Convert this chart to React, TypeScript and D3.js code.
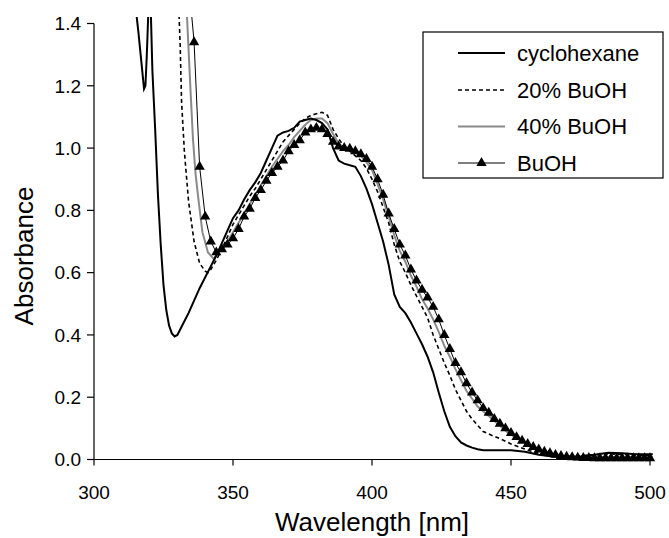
import React from "react";
import * as d3 from "d3";

const xTicks = [300, 350, 400, 450, 500];
const yTicks = [0, 0.2, 0.4, 0.6, 0.8, 1.0, 1.2, 1.4];
const yTickLabels = ["0.0", "0.2", "0.4", "0.6", "0.8", "1.0", "1.2", "1.4"];

const seriesNames = ["cyclohexane", "20% BuOH", "40% BuOH", "BuOH"];

const cycloWl = [315, 316, 317, 318, 318.5, 319, 319.6, 320, 320.4, 321, 322, 323, 324, 325, 326, 327, 328, 329, 330, 332, 334, 336, 338, 340, 342, 344, 346, 348, 350, 352, 354, 356, 358, 360, 362, 364, 366, 368, 370, 372, 374, 376, 378, 380, 382, 384, 386, 388, 390, 392, 394, 396, 398, 400, 402, 404, 406, 408, 410, 412, 414, 416, 418, 420, 422, 424, 426, 428, 430, 432, 434, 436, 438, 440, 445, 450, 455, 460, 465, 470, 475, 480, 485, 490, 495, 501];
const cycloA = [1.45, 1.37, 1.28, 1.19, 1.2, 1.3, 1.45, 1.5, 1.45, 1.25, 1.06, 0.85, 0.69, 0.56, 0.48, 0.43, 0.405, 0.395, 0.40, 0.435, 0.47, 0.51, 0.55, 0.585, 0.62, 0.655, 0.695, 0.735, 0.775, 0.80, 0.835, 0.865, 0.89, 0.92, 0.96, 1.0, 1.04, 1.05, 1.055, 1.065, 1.085, 1.09, 1.095, 1.09, 1.08, 1.06, 1.0, 0.96, 0.95, 0.945, 0.94, 0.91, 0.87, 0.82, 0.76, 0.70, 0.625, 0.53, 0.49, 0.47, 0.44, 0.405, 0.37, 0.33, 0.28, 0.215, 0.155, 0.105, 0.075, 0.055, 0.045, 0.038, 0.033, 0.03, 0.03, 0.03, 0.025, 0.015, 0.01, 0.008, 0.01, 0.015, 0.022, 0.02, 0.017, 0.017];

const bu20Wl = [330.5, 331, 331.5, 332.5, 334, 336, 338, 340, 341, 342, 344, 346, 348, 350, 352, 354, 356, 358, 360, 362, 364, 366, 368, 370, 372, 374, 376, 378, 380, 382, 384, 386, 388, 390, 392, 394, 396, 398, 400, 402, 404, 406, 408, 410, 412, 414, 416, 418, 420, 422, 424, 426, 428, 430, 432, 434, 436, 438, 440, 443, 446, 450, 453, 456, 460, 465, 470, 475, 480, 485, 490, 495, 501];
const bu20A = [1.45, 1.33, 1.15, 0.99, 0.83, 0.70, 0.63, 0.605, 0.60, 0.61, 0.64, 0.675, 0.715, 0.755, 0.785, 0.815, 0.845, 0.87, 0.90, 0.93, 0.96, 0.99, 1.02, 1.04, 1.06, 1.08, 1.095, 1.105, 1.11, 1.115, 1.105, 1.06, 1.03, 1.005, 0.99, 0.975, 0.96, 0.935, 0.90, 0.86, 0.81, 0.76, 0.69, 0.635, 0.60, 0.56, 0.525, 0.49, 0.455, 0.40, 0.355, 0.31, 0.27, 0.225, 0.19, 0.155, 0.13, 0.11, 0.09, 0.078, 0.067, 0.05, 0.04, 0.03, 0.02, 0.013, 0.01, 0.012, 0.015, 0.018, 0.016, 0.014, 0.014];

const bu40Wl = [333.3, 334, 334.8, 335.6, 336.5, 337.5, 339, 341, 343, 345, 348, 350, 352, 354, 356, 358, 360, 362, 364, 366, 368, 370, 372, 374, 376, 378, 380, 382, 384, 386, 388, 390, 392, 394, 396, 398, 400, 402, 404, 406, 408, 410, 412, 414, 416, 418, 420, 422, 424, 426, 428, 430, 432, 434, 436, 438, 440, 442, 445, 449, 453, 457, 460, 465, 470, 475, 480, 490, 501];
const bu40A = [1.45, 1.32, 1.17, 1.03, 0.92, 0.84, 0.73, 0.665, 0.645, 0.665, 0.70, 0.73, 0.76, 0.79, 0.82, 0.85, 0.88, 0.91, 0.94, 0.965, 0.99, 1.01, 1.035, 1.055, 1.075, 1.09, 1.095, 1.095, 1.08, 1.045, 1.015, 1.0, 0.995, 0.985, 0.975, 0.955, 0.93, 0.885, 0.835, 0.78, 0.72, 0.67, 0.635, 0.59, 0.555, 0.515, 0.485, 0.45, 0.41, 0.365, 0.33, 0.29, 0.255, 0.22, 0.195, 0.17, 0.155, 0.14, 0.116, 0.085, 0.063, 0.045, 0.033, 0.018, 0.01, 0.008, 0.008, 0.008, 0.008];

const buWl = [335, 336, 338, 340, 342, 344, 346, 348, 350, 352, 354, 356, 358, 360, 362, 364, 366, 368, 370, 372, 374, 376, 378, 380, 382, 384, 386, 388, 390, 392, 394, 396, 398, 400, 402, 404, 406, 408, 410, 412, 414, 416, 418, 420, 422, 424, 426, 428, 430, 432, 434, 436, 438, 440, 442, 444, 446, 448, 450, 452, 454, 456, 458, 460, 462, 464, 466, 468, 470, 472, 474, 476, 478, 480, 482, 484, 486, 488, 490, 492, 494, 496, 498, 500];
const buA = [1.44, 1.34, 0.94, 0.78, 0.70, 0.665, 0.675, 0.69, 0.71, 0.74, 0.78, 0.805, 0.84, 0.865, 0.895, 0.92, 0.94, 0.96, 0.99, 1.01, 1.025, 1.05, 1.06, 1.065, 1.06, 1.045, 1.02, 1.005, 1.0, 0.998, 0.99, 0.98, 0.965, 0.94, 0.90, 0.85, 0.79, 0.74, 0.69, 0.655, 0.61, 0.575, 0.545, 0.52, 0.49, 0.45, 0.40, 0.355, 0.31, 0.28, 0.245, 0.215, 0.19, 0.165, 0.15, 0.13, 0.115, 0.10, 0.085, 0.072, 0.06, 0.05, 0.04, 0.032, 0.025, 0.02, 0.015, 0.011, 0.009, 0.007, 0.006, 0.005, 0.005, 0.004, 0.004, 0.004, 0.004, 0.004, 0.004, 0.004, 0.004, 0.004, 0.004, 0.004];

const FONT = '"Liberation Sans", Arial, Helvetica, sans-serif';

export default function App() {
  const W = 669, H = 538;
  const x = d3.scaleLinear().domain([300, 500]).range([94, 650]);
  const y = d3.scaleLinear().domain([0, 1.4]).range([459.5, 23.5]);
  const line = d3.line<[number, number]>().x(d => x(d[0])).y(d => y(d[1]));
  const zip = (a: number[], b: number[]) => a.map((v, i) => [v, b[i]] as [number, number]);
  const cyc = zip(cycloWl, cycloA);
  const b20 = zip(bu20Wl, bu20A);
  const b40 = zip(bu40Wl, bu40A);
  const bu = zip(buWl, buA);
  const tri = d3.symbol().type(d3.symbolTriangle).size(46)();
  const legendY = [53, 90, 126.5, 163];

  return (
    <svg width={W} height={H} style={{ position: "absolute", left: 0, top: 0, background: "#fff" }} fontFamily={FONT}>
      <defs>
        <clipPath id="plotclip">
          <rect x={94} y={17} width={566} height={455} />
        </clipPath>
      </defs>
      <rect x={0} y={0} width={W} height={H} fill="#fff" />
      {/* axes */}
      <line x1={x(300)} x2={x(500)} y1={y(0)} y2={y(0)} stroke="#000" strokeWidth={1.2} />
      <line x1={x(300)} x2={x(300)} y1={y(0)} y2={y(1.4)} stroke="#000" strokeWidth={1.2} />
      {xTicks.map(t => (
        <g key={"xt" + t}>
          <line x1={x(t)} x2={x(t)} y1={y(0)} y2={y(0) + 6} stroke="#000" strokeWidth={1.2} />
          <text x={x(t)} y={499} textAnchor="middle" fontSize={19} fill="#000">{t}</text>
        </g>
      ))}
      {yTicks.map((t, i) => (
        <g key={"yt" + t}>
          <line x1={x(300) - 7} x2={x(300)} y1={y(t)} y2={y(t)} stroke="#000" strokeWidth={1.2} />
          <text x={81} y={y(t)} dy="0.36em" textAnchor="end" fontSize={19} fill="#000">{yTickLabels[i]}</text>
        </g>
      ))}
      <text x={372} y={531} textAnchor="middle" fontSize={26} fill="#000">Wavelength [nm]</text>
      <text transform={`translate(33,256) rotate(-90)`} textAnchor="middle" fontSize={26} fill="#000">Absorbance</text>

      <g clipPath="url(#plotclip)" fill="none">
        <path d={line(b40) || ""} stroke="#8a8a8a" strokeWidth={2} />
        <path d={line(bu) || ""} stroke="#000" strokeWidth={1} />
        <path d={line(b20) || ""} stroke="#000" strokeWidth={1.6} strokeDasharray="4,3" />
        <path d={line(cyc) || ""} stroke="#000" strokeWidth={2} />
        {bu.map((d, i) => (
          <path key={"m" + i} d={tri || ""} transform={`translate(${x(d[0])},${y(d[1])})`} fill="#000" />
        ))}
      </g>

      {/* legend */}
      <rect x={423} y={32} width={240} height={146} fill="#fff" stroke="#000" strokeWidth={1.2} />
      <line x1={458} x2={505} y1={legendY[0]} y2={legendY[0]} stroke="#000" strokeWidth={2} />
      <line x1={458} x2={505} y1={legendY[1]} y2={legendY[1]} stroke="#000" strokeWidth={1.6} strokeDasharray="4,3" />
      <line x1={458} x2={505} y1={legendY[2]} y2={legendY[2]} stroke="#8a8a8a" strokeWidth={2} />
      <line x1={458} x2={505} y1={legendY[3]} y2={legendY[3]} stroke="#000" strokeWidth={1} />
      <path d={tri || ""} transform={`translate(481.5,${legendY[3]})`} fill="#000" />
      {seriesNames.map((s, i) => (
        <text key={s} x={517} y={legendY[i]} dy="0.36em" fontSize={22} fill="#000">{s}</text>
      ))}
    </svg>
  );
}
